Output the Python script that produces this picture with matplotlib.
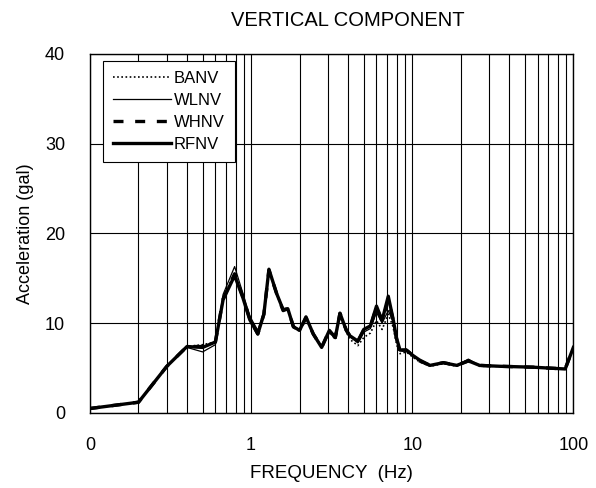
import matplotlib
matplotlib.use("Agg")
from matplotlib import pyplot as plt
from matplotlib.ticker import FixedLocator, NullFormatter

plt.rcParams["font.family"] = ["Liberation Sans", "DejaVu Sans"]

# frequency points (Hz)
freq = [0.1, 0.2, 0.3, 0.4, 0.5, 0.6, 0.67, 0.79, 0.89, 0.98, 1.1, 1.2, 1.29,
        1.44, 1.58, 1.69, 1.83, 2.0, 2.19, 2.43, 2.74, 3.06, 3.33, 3.56, 3.9,
        4.1, 4.6, 5.0, 5.5, 6.0, 6.5, 7.1, 7.6, 8.0, 8.4, 9.2, 10.1, 11.1,
        12.9, 15.6, 18.9, 22.3, 26.2, 35, 56, 89, 100]

banv = [0.5, 1.2, 5.2, 7.4, 7.6, 7.9, 12.8, 15.6, 12.9, 10.5, 9.0, 11.0, 15.8,
        13.2, 11.4, 11.5, 9.5, 9.1, 10.5, 8.7, 7.4, 9.0, 8.2, 10.8, 9.0,
        8.2, 7.5, 8.4, 8.9, 10.3, 9.3, 11.0, 9.6, 7.6, 6.6, 6.8, 6.2, 5.7,
        5.2, 5.5, 5.2, 5.9, 5.2, 5.2, 5.1, 4.9, 7.2]
wlnv = [0.5, 1.2, 5.2, 7.3, 6.8, 7.6, 13.2, 16.3, 13.3, 10.8, 9.2, 11.2, 16.1,
        13.4, 11.6, 11.7, 9.6, 9.3, 10.7, 8.9, 7.4, 9.2, 8.5, 11.0, 9.3,
        8.5, 7.8, 9.0, 9.4, 11.2, 10.0, 11.4, 10.2, 8.0, 7.0, 7.1, 6.5, 5.9,
        5.3, 5.6, 5.3, 6.0, 5.3, 5.2, 5.1, 4.9, 7.2]
whnv = [0.5, 1.2, 5.2, 7.4, 7.4, 7.9, 12.7, 15.5, 12.9, 10.5, 8.8, 11.0, 15.9,
        13.3, 11.4, 11.6, 9.6, 9.2, 10.6, 8.8, 7.3, 9.2, 8.4, 11.1, 9.2,
        8.6, 8.0, 9.2, 9.6, 11.8, 10.2, 12.6, 10.4, 8.2, 7.0, 7.0, 6.4, 5.8,
        5.3, 5.6, 5.3, 5.8, 5.3, 5.2, 5.1, 4.9, 7.3]
rfnv = [0.5, 1.2, 5.2, 7.4, 7.3, 7.9, 12.6, 15.3, 12.8, 10.4, 8.8, 11.0, 16.0,
        13.3, 11.5, 11.6, 9.6, 9.2, 10.7, 8.8, 7.3, 9.2, 8.4, 11.1, 9.2,
        8.6, 8.0, 9.3, 9.7, 11.9, 10.3, 13.0, 10.5, 8.3, 7.0, 7.0, 6.4, 5.9,
        5.3, 5.6, 5.3, 5.8, 5.3, 5.2, 5.1, 4.9, 7.3]

x_ticks = [0.1, 1, 10, 100]
x_labels = ["0", "1", "10", "100"]
y_ticks = [0, 10, 20, 30, 40]


def main():
    fig = plt.figure(figsize=(5.96, 4.88), dpi=100)
    ax = fig.add_axes([0.151, 0.1537, 0.811, 0.7363])

    ax.plot(freq, banv, color="black", lw=1.2, ls=(0, (1, 1.5)), label="BANV")
    ax.plot(freq, wlnv, color="black", lw=0.9, label="WLNV")
    ax.plot(freq, whnv, color="black", lw=2.4, ls=(0, (3, 3.5)), label="WHNV")
    ax.plot(freq, rfnv, color="black", lw=2.4, label="RFNV")

    ax.set_xscale("log")
    ax.set_xlim(0.1, 100)
    ax.set_ylim(0, 40)
    ax.set_xticks(x_ticks)
    ax.set_xticklabels(x_labels)
    ax.xaxis.set_minor_locator(FixedLocator(
        [m * d for d in (0.1, 1, 10) for m in range(2, 10)]))
    ax.xaxis.set_minor_formatter(NullFormatter())
    ax.set_yticks(y_ticks)
    ax.tick_params(which="both", length=0, labelsize=13)
    ax.tick_params(axis="x", pad=17)
    ax.tick_params(axis="y", pad=18)

    ax.grid(which="major", axis="both", color="black", lw=0.8)
    ax.grid(which="minor", axis="x", color="black", lw=0.8)
    for s in ax.spines.values():
        s.set_linewidth(1.0)

    ax.set_xlabel("FREQUENCY  (Hz)", fontsize=13.5, labelpad=8)
    ax.set_ylabel("Acceleration (gal)", fontsize=13, labelpad=8)
    fig.text(0.584, 0.959, "VERTICAL COMPONENT", fontsize=14.5,
             ha="center", va="center")

    leg = ax.legend(loc="upper left", bbox_to_anchor=(0.027, 0.98),
                    borderaxespad=0, fancybox=False, framealpha=1,
                    edgecolor="black", fontsize=12, handlelength=3.5,
                    handletextpad=0.15, labelspacing=0.42, borderpad=0.6)
    leg.get_frame().set_linewidth(0.8)

    plt.savefig("out.png")


if __name__ == "__main__":
    main()
